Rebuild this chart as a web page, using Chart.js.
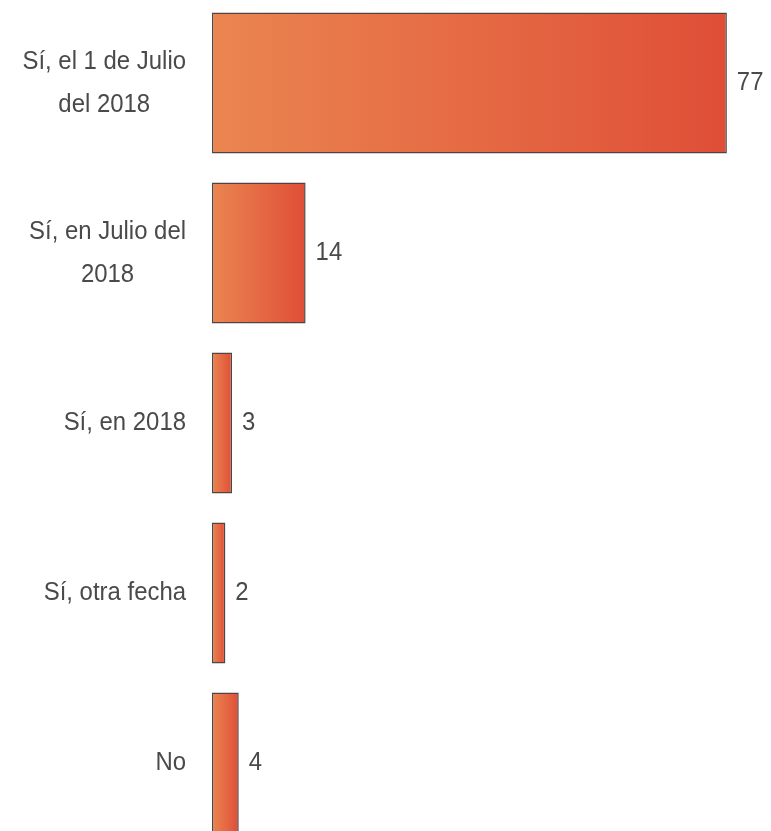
<!DOCTYPE html>
<html>
<head>
<meta charset="utf-8">
<script src="https://cdn.jsdelivr.net/npm/chart.js@4"></script>
<style>
  html, body { margin: 0; padding: 0; background: #fff; overflow: hidden; }
  #wrap { position: relative; width: 771px; height: 850px; margin-top: -2px; }
</style>
</head>
<body>
<div id="wrap"><canvas id="chart"></canvas></div>
<script>
// data
const categories = [
  ['Sí, el 1 de Julio', 'del 2018'],
  ['Sí, en Julio del', '2018'],
  ['Sí, en 2018'],
  ['Sí, otra fecha'],
  ['No']
];
const values = [77, 14, 3, 2, 4];

const LABEL_FONT = "26px 'Liberation Sans', Arial, sans-serif";
const SQUEEZE = 0.92; // the original type is a bit condensed
const TEXT_COLOR = '#4a4a4a';

// left-to-right gradient on each bar (orange -> red)
function barFill(ctx) {
  const chart = ctx.chart;
  if (!chart.chartArea || ctx.type !== 'data') return '#e4683f';
  const x = chart.scales.x;
  const x0 = x.getPixelForValue(0);
  const x1 = x.getPixelForValue(ctx.raw);
  const g = chart.ctx.createLinearGradient(x0, 0, x1, 0);
  g.addColorStop(0, '#ea8550');
  g.addColorStop(0.5, '#e56a44');
  g.addColorStop(1, '#df4e37');
  return g;
}

function squeezedText(c, txt, x, y) {
  c.save();
  c.translate(x, y);
  c.scale(SQUEEZE, 1);
  c.fillText(txt, 0, 0);
  c.restore();
}

const labelsPlugin = {
  id: 'labelsPlugin',
  afterDraw(chart) {
    const c = chart.ctx;
    const y = chart.scales.y;
    const meta = chart.getDatasetMeta(0);
    c.save();
    c.font = LABEL_FONT;
    c.fillStyle = TEXT_COLOR;
    c.textBaseline = 'middle';
    // category labels: block right-aligned, lines centred in the block
    chart.data.labels.forEach((lines, i) => {
      const cy = y.getPixelForTick(i);
      const w = Math.max(...lines.map(l => c.measureText(l).width)) * SQUEEZE;
      const cx = 186 - w / 2;
      const lh = 43;
      c.textAlign = 'center';
      lines.forEach((l, j) => {
        squeezedText(c, l, cx, cy + (j - (lines.length - 1) / 2) * lh);
      });
    });
    // value labels at bar ends
    c.textAlign = 'left';
    meta.data.forEach((bar, i) => {
      squeezedText(c, String(values[i]), bar.x + 10, bar.y);
    });
    c.restore();
  }
};

new Chart(document.getElementById('chart'), {
  type: 'bar',
  data: {
    labels: categories,
    datasets: [{
      data: values,
      backgroundColor: barFill,
      borderColor: '#504540',
      borderWidth: 1.5,
      borderSkipped: false,
      categoryPercentage: 1,
      barPercentage: 0.83
    }]
  },
  options: {
    indexAxis: 'y',
    responsive: true,
    maintainAspectRatio: false,
    animation: false,
    layout: { padding: { left: 212, right: 0, top: 0, bottom: 0 } },
    plugins: { legend: { display: false }, tooltip: { enabled: false } },
    scales: {
      x: { display: false, min: 0, max: 83.6 },
      y: { display: false }
    }
  },
  plugins: [labelsPlugin]
});
</script>
</body>
</html>
